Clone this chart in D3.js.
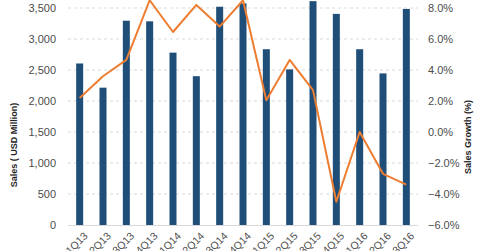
<!DOCTYPE html>
<html>
<head>
<meta charset="utf-8">
<script src="https://cdn.jsdelivr.net/npm/d3@7"></script>
<style>
    body { margin: 0; background: #fff; }
    svg { display: block; font-family: Arial, "Liberation Sans", sans-serif; }
</style>
</head>
<body>
<div id="chart"></div>
<script>
// ---------------- Data ----------------
const quarters = ["1Q13", "2Q13", "3Q13", "4Q13", "1Q14", "2Q14", "3Q14", "4Q14",
                  "1Q15", "2Q15", "3Q15", "4Q15", "1Q16", "2Q16", "3Q16"];
const sales = [2605, 2215, 3295, 3285, 2780, 2400, 3520, 3575,
               2835, 2510, 3610, 3405, 2835, 2445, 3485];           // USD million
const growth = [2.2, 3.6, 4.65, 8.5, 6.45, 8.2, 6.8, 8.5,
                2.05, 4.65, 2.7, -4.5, 0.0, -2.7, -3.4];             // %
const leftTicks = [0, 500, 1000, 1500, 2000, 2500, 3000, 3500];
const rightTicks = [-6, -4, -2, 0, 2, 4, 6, 8];

// ---------------- Layout ----------------
const width = 480, height = 251;
const plot = { left: 68, right: 418, top: 8, bottom: 225 };

const svg = d3.select("#chart").append("svg")
    .attr("width", width)
    .attr("height", height);

const x = d3.scaleBand()
    .domain(quarters)
    .range([plot.left, plot.right])
    .paddingInner(0.7)
    .paddingOuter(0.35);

const yLeft = d3.scaleLinear().domain([0, 3500]).range([plot.bottom, plot.top]);
const yRight = d3.scaleLinear().domain([-6, 8]).range([plot.bottom, plot.top]);

// gridlines (dashed) + baseline
svg.append("g")
    .selectAll("line")
    .data(leftTicks.filter(d => d > 0))
    .join("line")
    .attr("x1", plot.left).attr("x2", plot.right)
    .attr("y1", d => yLeft(d)).attr("y2", d => yLeft(d))
    .attr("stroke", "#d9d9d9")
    .attr("stroke-dasharray", "3,3")
    .attr("stroke-width", 1);

svg.append("line")
    .attr("x1", plot.left).attr("x2", plot.right)
    .attr("y1", yLeft(0) + 0.5).attr("y2", yLeft(0) + 0.5)
    .attr("stroke", "#d9d9d9");

// bars
svg.append("g")
    .selectAll("rect")
    .data(sales)
    .join("rect")
    .attr("x", (d, i) => x(quarters[i]))
    .attr("width", x.bandwidth())
    .attr("y", d => yLeft(d))
    .attr("height", d => yLeft(0) - yLeft(d))
    .attr("fill", "#1f4e79");

// growth line
const line = d3.line()
    .x((d, i) => x(quarters[i]) + x.bandwidth() / 2)
    .y(d => yRight(d));

svg.append("path")
    .datum(growth)
    .attr("d", line)
    .attr("fill", "none")
    .attr("stroke", "#ed7d31")
    .attr("stroke-width", 2)
    .attr("stroke-linejoin", "round");

// left axis
const leftAxis = svg.append("g")
    .attr("transform", `translate(${plot.left - 12},0)`)
    .call(d3.axisLeft(yLeft).tickValues(leftTicks).tickFormat(d3.format(",")).tickSize(0).tickPadding(0));
leftAxis.select(".domain").remove();
leftAxis.selectAll("text")
    .attr("font-size", 11)
    .attr("font-family", "Arial, 'Liberation Sans', sans-serif")
    .attr("fill", "#4d4d4d");

// right axis
const rightAxis = svg.append("g")
    .attr("transform", `translate(${plot.right + 10},0)`)
    .call(d3.axisRight(yRight).tickValues(rightTicks).tickFormat(d => d3.format(".1f")(d) + "%").tickSize(0).tickPadding(0));
rightAxis.select(".domain").remove();
rightAxis.selectAll("text")
    .attr("font-size", 11)
    .attr("font-family", "Arial, 'Liberation Sans', sans-serif")
    .attr("fill", "#4d4d4d");

// category labels, rotated
svg.append("g")
    .selectAll("text")
    .data(quarters)
    .join("text")
    .attr("transform", d => `translate(${x(d) + x.bandwidth() / 2 + 6},${plot.bottom + 9}) rotate(-45)`)
    .attr("text-anchor", "end")
    .attr("dy", "0.35em")
    .attr("font-size", 10.5)
    .attr("fill", "#4d4d4d")
    .text(d => d);

// axis titles
svg.append("text")
    .attr("transform", `translate(17,145) rotate(-90)`)
    .attr("text-anchor", "middle")
    .attr("font-size", 9)
    .attr("font-weight", "bold")
    .attr("fill", "#262626")
    .text("Sales ( USD Million)");

svg.append("text")
    .attr("transform", `translate(471,137) rotate(-90)`)
    .attr("text-anchor", "middle")
    .attr("font-size", 9)
    .attr("font-weight", "bold")
    .attr("fill", "#262626")
    .text("Sales Growth (%)");
</script>
</body>
</html>
